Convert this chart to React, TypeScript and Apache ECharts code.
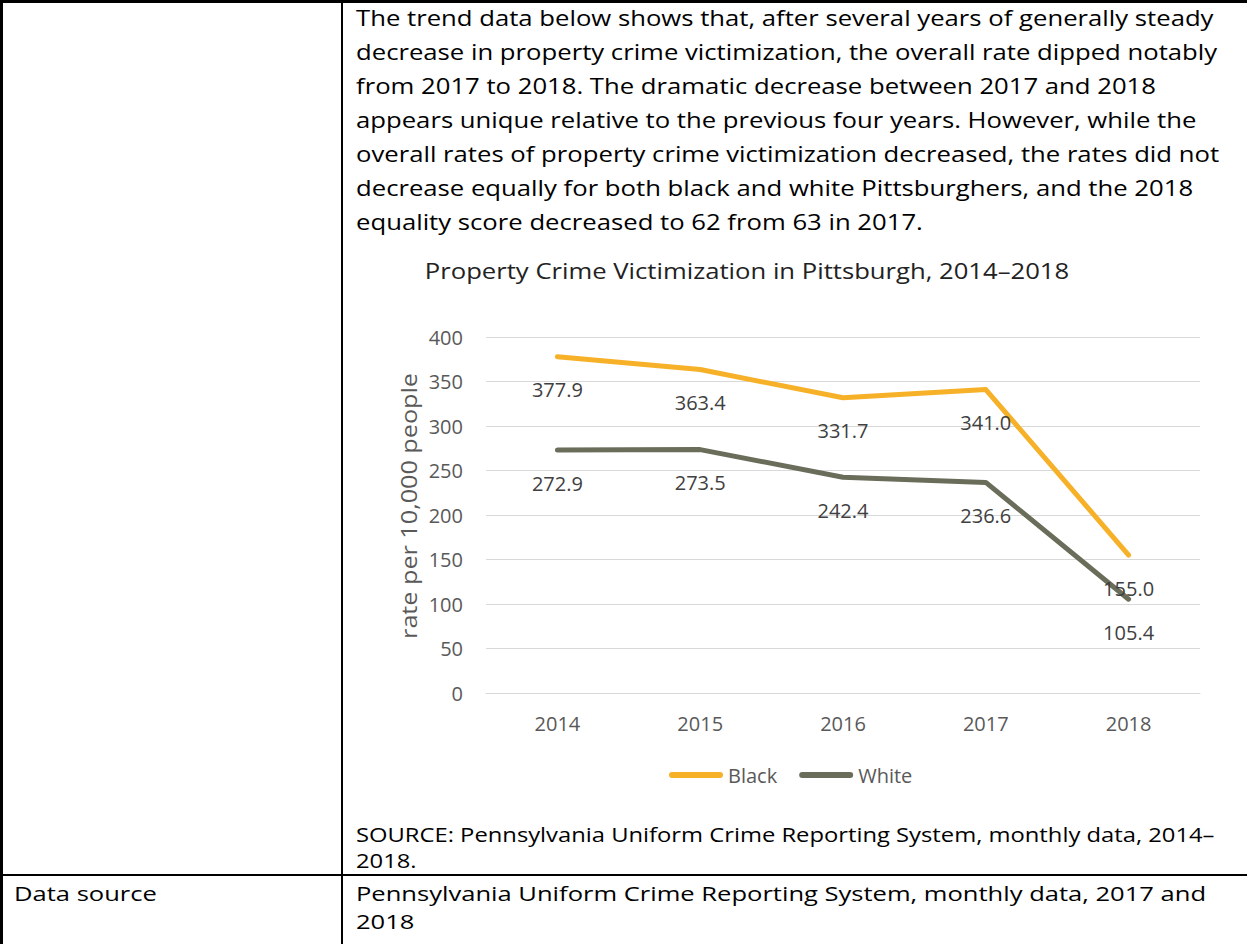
import React, { useEffect, useRef } from "react";
import * as echarts from "echarts";

const categories = ["2014", "2015", "2016", "2017", "2018"];
const blackValues = [377.9, 363.4, 331.7, 341.0, 155.0];
const whiteValues = [272.9, 273.5, 242.4, 236.6, 105.4];
const seriesNames = ["Black", "White"];
const yMin = 0;
const yMax = 400;
const yInterval = 50;

const chartTitle = "Property Crime Victimization in Pittsburgh, 2014\u20132018";
const yAxisName = "rate per 10,000 people";

const paragraphLines = [
  "The trend data below shows that, after several years of generally steady",
  "decrease in property crime victimization, the overall rate dipped notably",
  "from 2017 to 2018. The dramatic decrease between 2017 and 2018",
  "appears unique relative to the previous four years. However, while the",
  "overall rates of property crime victimization decreased, the rates did not",
  "decrease equally for both black and white Pittsburghers, and the 2018",
  "equality score decreased to 62 from 63 in 2017.",
];
const sourceLines = [
  "SOURCE: Pennsylvania Uniform Crime Reporting System, monthly data, 2014\u2013",
  "2018.",
];
const rowLabel = "Data source";
const rowLines = [
  "Pennsylvania Uniform Crime Reporting System, monthly data, 2017 and",
  "2018",
];

const FONT = "'Open Sans', Lato, sans-serif";
const BLACK_COLOR = "#F7B128";
const WHITE_COLOR = "#6A6D5A";

function measure(text: string, size: number): number {
  const c = document.createElement("canvas").getContext("2d")!;
  c.font = `${size}px ${FONT}`;
  return c.measureText(text).width || 1;
}

export default function App() {
  const ref = useRef<HTMLDivElement>(null);
  useEffect(() => {
    document.body.style.margin = "0";
    const chart = echarts.init(ref.current!, null, { renderer: "svg" });

    const paraSize = 22;
    const paraScale = 858 / measure(paragraphLines[0], paraSize);
    const titleSize = 21.5;
    const titleScale = 645 / measure(chartTitle, titleSize);
    const srcSize = 19.5;
    const srcScale = 859 / measure(sourceLines[0], srcSize);
    const rowScale = 850 / measure(rowLines[0], srcSize);
    const nameSize = 22;
    const nameScale = 266 / measure(yAxisName, nameSize);

    const graphics: any[] = [];
    graphics.push({ type: "rect", shape: { x: 0, y: 0, width: 1247, height: 3 }, style: { fill: "#000" } });
    graphics.push({ type: "rect", shape: { x: 0, y: 0, width: 3, height: 944 }, style: { fill: "#000" } });
    graphics.push({ type: "rect", shape: { x: 341, y: 0, width: 2, height: 944 }, style: { fill: "#000" } });
    graphics.push({ type: "rect", shape: { x: 0, y: 874, width: 1247, height: 2 }, style: { fill: "#000" } });

    paragraphLines.forEach((t, i) => {
      graphics.push({
        type: "text",
        x: 356,
        y: 17 + i * 34,
        scaleX: paraScale,
        style: { text: t, font: `${paraSize}px ${FONT}`, fill: "#000", textVerticalAlign: "middle" },
      });
    });
    graphics.push({
      type: "text",
      x: 747,
      y: 271,
      scaleX: titleScale,
      style: { text: chartTitle, font: `${titleSize}px ${FONT}`, fill: "#222", textAlign: "center", textVerticalAlign: "middle" },
    });
    graphics.push({
      type: "text",
      x: 409,
      y: 506,
      rotation: Math.PI / 2,
      scaleX: nameScale,
      style: { text: yAxisName, font: `${nameSize}px ${FONT}`, fill: "#595959", textAlign: "center", textVerticalAlign: "middle" },
    });
    sourceLines.forEach((t, i) => {
      graphics.push({
        type: "text",
        x: 356,
        y: 834 + i * 26,
        scaleX: srcScale,
        style: { text: t, font: `${srcSize}px ${FONT}`, fill: "#000", textVerticalAlign: "middle" },
      });
    });
    graphics.push({
      type: "text",
      x: 14,
      y: 894,
      scaleX: rowScale,
      style: { text: rowLabel, font: `${srcSize}px ${FONT}`, fill: "#000", textVerticalAlign: "middle" },
    });
    rowLines.forEach((t, i) => {
      graphics.push({
        type: "text",
        x: 356,
        y: 894 + i * 28,
        scaleX: rowScale,
        style: { text: t, font: `${srcSize}px ${FONT}`, fill: "#000", textVerticalAlign: "middle" },
      });
    });

    const label = {
      show: true,
      position: "bottom",
      distance: 23,
      color: "#404040",
      fontSize: 20,
      fontFamily: FONT,
      formatter: (p: any) => Number(p.value).toFixed(1),
    };

    const legendIcon = "path://M3,0 L51,0 A3,3 0 0 1 51,6 L3,6 A3,3 0 0 1 3,0 Z";

    chart.setOption({
      animation: false,
      backgroundColor: "#fff",
      graphic: graphics,
      grid: { left: 486, right: 47, top: 337, bottom: 251, containLabel: false },
      legend: {
        data: seriesNames.map((n) => ({ name: n, icon: legendIcon })),
        left: 664,
        top: 760,
        itemWidth: 54,
        itemHeight: 6,
        itemGap: 22,
        textStyle: { color: "#595959", fontSize: 20, fontFamily: FONT, padding: [0, 0, 0, 0] },
      },
      xAxis: {
        type: "category",
        data: categories,
        boundaryGap: true,
        axisLine: { show: true, lineStyle: { color: "#D9D9D9", width: 1 } },
        axisTick: { show: false },
        axisLabel: { color: "#595959", fontSize: 20, fontFamily: FONT, margin: 20 },
      },
      yAxis: {
        type: "value",
        min: yMin,
        max: yMax,
        interval: yInterval,
        axisLine: { show: false },
        axisTick: { show: false },
        axisLabel: { color: "#595959", fontSize: 20, fontFamily: FONT, margin: 23 },
        splitLine: { lineStyle: { color: "#D9D9D9", width: 1 } },
      },
      series: [
        {
          name: seriesNames[0],
          type: "line",
          data: blackValues,
          symbol: "circle",
          symbolSize: 0,
          showSymbol: true,
          lineStyle: { color: BLACK_COLOR, width: 5, cap: "round", join: "round" },
          itemStyle: { color: BLACK_COLOR },
          label,
        },
        {
          name: seriesNames[1],
          type: "line",
          data: whiteValues,
          symbol: "circle",
          symbolSize: 0,
          showSymbol: true,
          lineStyle: { color: WHITE_COLOR, width: 5, cap: "round", join: "round" },
          itemStyle: { color: WHITE_COLOR },
          label,
        },
      ],
    });
    return () => chart.dispose();
  }, []);
  return <div ref={ref} style={{ width: 1247, height: 944, background: "#fff" }} />;
}
